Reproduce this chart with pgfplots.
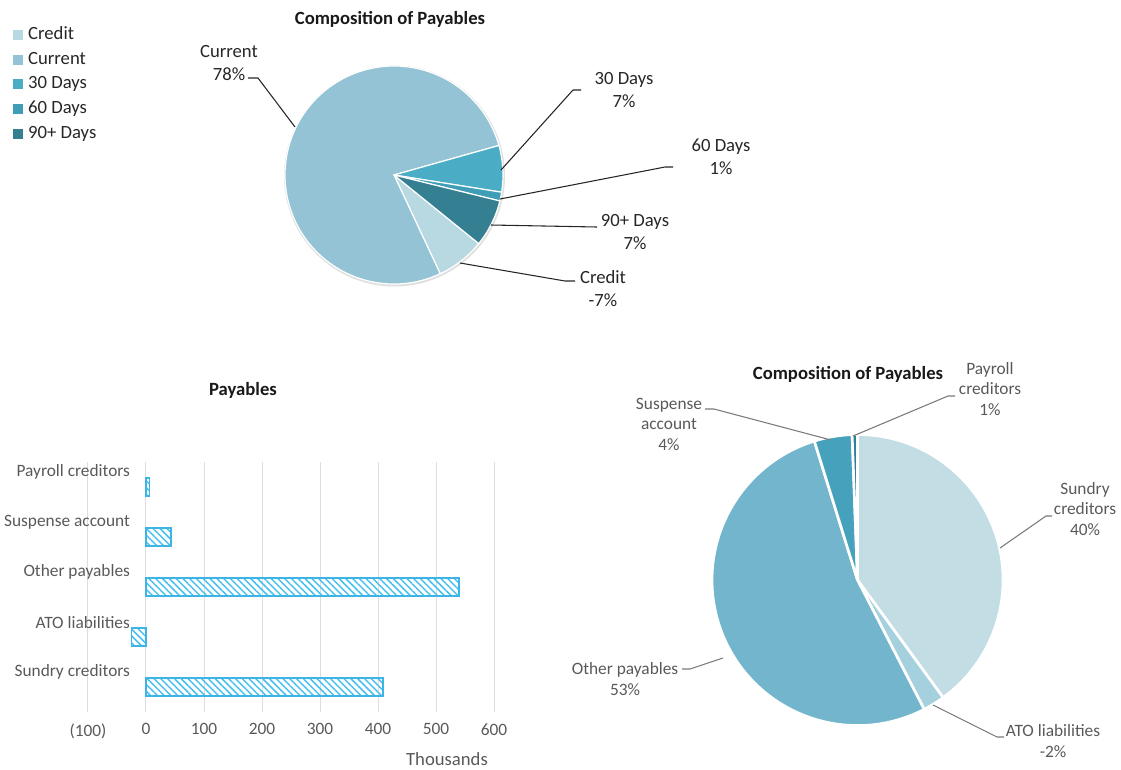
\documentclass[border=0pt]{standalone}
\usepackage{pgfplots}
\pgfplotsset{compat=1.18}
\usepackage{pgfplotstable}
\usepackage{fontspec}
\setmainfont{Carlito}
\usetikzlibrary{patterns.meta}

% colours
\definecolor{cCredit}{HTML}{B8D8E2}
\definecolor{cCurrent}{HTML}{93C3D4}
\definecolor{cThirty}{HTML}{4BACC6}
\definecolor{cSixty}{HTML}{3F9DB8}
\definecolor{cNinety}{HTML}{357F93}
\definecolor{cSundry}{HTML}{C3DDE5}
\definecolor{cATO}{HTML}{A5D0DE}
\definecolor{cOther}{HTML}{72B5CC}
\definecolor{cSuspense}{HTML}{46A2BC}
\definecolor{cPayroll}{HTML}{2E7F99}
\definecolor{barline}{HTML}{3CB4E6}
\definecolor{hatch}{HTML}{45C0EE}
\definecolor{txt}{HTML}{595959}
\definecolor{gridc}{HTML}{DEDEDE}

% one slice per table row, clockwise from the start angle
% #1 table, #2/#3 centre (px), #4 radius (px), #5 start angle, #6 border width
\newcommand\drawpie[6]{%
  \gdef\pietotal{0}%
  \pgfplotstableforeachcolumnelement{value}\of#1\as\v{%
    \pgfmathsetmacro\t{\pietotal+abs(\v)}\xdef\pietotal{\t}}%
  \xdef\pieangle{#5}%
  \pgfplotstablegetrowsof{#1}\pgfmathtruncatemacro\pielast{\pgfplotsretval-1}%
  \foreach \i in {0,...,\pielast}{%
    \pgfplotstablegetelem{\i}{value}\of#1\pgfmathsetmacro\v{abs(\pgfplotsretval)}%
    \pgfplotstablegetelem{\i}{colour}\of#1\let\slicecol\pgfplotsretval
    \pgfmathsetmacro\a{\pieangle}%
    \pgfmathsetmacro\b{\pieangle-\v/\pietotal*360}%
    \edef\temp{\noexpand\fill[fill=\slicecol, draw=white, line width=#6, line join=round]
      (axis cs:#2,#3) -- ++(\a:#4*0.75pt) arc[start angle=\a, end angle=\b, radius=#4*0.75pt] -- cycle;}%
    \temp
    \xdef\pieangle{\b}%
  }%
}

\begin{document}

\pgfplotstableread{
value colour
-7.2  cCredit
77.6  cCurrent
6.9   cThirty
1.3   cSixty
7.0   cNinety
}\toppie

\pgfplotstableread{
value colour
409   cSundry
-25   cATO
540   cOther
43    cSuspense
6     cPayroll
}\botpie

% payables in thousands, bottom to top
\pgfplotstableread{
pos value
0 409
1 -25
2 540
3 43
4 6
}\payables

\begin{tikzpicture}
% frame axis: one unit = one pixel of the reference, y downwards
\begin{axis}[
  x=0.75pt, y=0.75pt, xmin=0, xmax=1121, ymin=0, ymax=769, y dir=reverse,
  hide axis, clip=false, scale only axis,
  legend style={at={(axis cs:9,23)}, anchor=north west, draw=none, fill=none,
    font=\fontsize{14}{17}\selectfont, text=black!85, row sep=5.6pt,
    nodes={inner ysep=0pt, inner xsep=4pt, text height=10pt, text depth=3pt}},
  legend cell align=left,
  legend image code/.code={\fill[#1] (0pt,-3.4pt) rectangle (6.8pt,3.4pt);},
]
\addlegendimage{cCredit}\addlegendentry{Credit}
\addlegendimage{cCurrent}\addlegendentry{Current}
\addlegendimage{cThirty}\addlegendentry{30 Days}
\addlegendimage{cSixty}\addlegendentry{60 Days}
\addlegendimage{cNinety}\addlegendentry{90+ Days}

% top pie
\fill[black!12] (axis cs:394.5,176) circle[radius=110.5*0.75pt];
\drawpie{\toppie}{394}{175}{109}{-39}{0.9pt}
\node[font=\bfseries\fontsize{14}{17}\selectfont, text=black!90] at (axis cs:390,19) {Composition of Payables};

\begin{scope}[black!85, line width=0.8pt]
\draw (axis cs:295,127) -- (axis cs:258,78) -- (axis cs:248,78);
\draw (axis cs:501,170) -- (axis cs:573,90) -- (axis cs:581,90);
\draw (axis cs:500,199) -- (axis cs:665,167) -- (axis cs:673,167);
\draw (axis cs:491,225) -- (axis cs:597,227);
\draw (axis cs:460,263) -- (axis cs:565,281) -- (axis cs:575,281);
\end{scope}
\begin{scope}[every node/.style={font=\fontsize{14}{17.25}\selectfont, text=black!85, align=center}]
\node at (axis cs:229,63) {Current\\78\%};
\node at (axis cs:624,90) {30 Days\\7\%};
\node at (axis cs:721,157) {60 Days\\1\%};
\node at (axis cs:635,232) {90+ Days\\7\%};
\node at (axis cs:603,289) {Credit\\-7\%};
\end{scope}

% bottom pie
\drawpie{\botpie}{857.5}{580}{145.5}{90}{2pt}
\node[font=\bfseries\fontsize{14}{17}\selectfont, text=black!90] at (axis cs:848,374) {Composition of Payables};
\begin{scope}[txt!80, line width=0.8pt]
\draw (axis cs:853,436) -- (axis cs:948,396) -- (axis cs:955,396);
\draw (axis cs:831,440) -- (axis cs:714,409) -- (axis cs:705,409);
\draw (axis cs:1000,548) -- (axis cs:1046,516) -- (axis cs:1052,516);
\draw (axis cs:723,658) -- (axis cs:690,669) -- (axis cs:682,669);
\draw (axis cs:933,705) -- (axis cs:997,737) -- (axis cs:1004,737);
\end{scope}
\begin{scope}[every node/.style={font=\fontsize{13}{15.4}\selectfont, text=txt, align=center}]
\node at (axis cs:990,389) {Payroll\\creditors\\1\%};
\node at (axis cs:669,424) {Suspense\\account\\4\%};
\node at (axis cs:1085,509) {Sundry\\creditors\\40\%};
\node at (axis cs:625,679) {Other payables\\53\%};
\node at (axis cs:1053,741) {ATO liabilities\\-2\%};
\end{scope}
\node[font=\bfseries\fontsize{14}{17}\selectfont, text=black!90] at (axis cs:243,390) {Payables};
\node[font=\fontsize{14}{17}\selectfont, text=txt] at (axis cs:447,759) {Thousands};
\end{axis}

% bar chart
\begin{axis}[
  at={(88*0.75pt,57*0.75pt)}, anchor=south west,
  width=406*0.75pt, height=250*0.75pt, scale only axis,
  xbar, bar width=13.5pt,
  xmin=-100, xmax=600, ymin=-0.5, ymax=4.5,
  axis line style={draw=none}, tick style={draw=none},
  xmajorgrids, grid style={gridc, line width=0.75pt},
  xtick={-100,0,...,600},
  xticklabels={(100),0,100,200,300,400,500,600},
  ytick={0,1,2,3,4},
  yticklabels={Sundry creditors,ATO liabilities,Other payables,Suspense account,Payroll creditors},
  major tick length=0pt,
  tick label style={font=\fontsize{13}{15}\selectfont, text=txt},
  xticklabel style={yshift=-5pt},
  yticklabel style={xshift=35pt, yshift=11pt},
  /pgf/number format/assume math mode=true,
]
\addplot[draw=barline, line width=1.3pt,
  pattern={Lines[angle=-45, distance=3.6pt, line width=1.1pt]}, pattern color=hatch]
  table[x=value, y=pos] {\payables};
\end{axis}

\pgfresetboundingbox
\path (0,0) rectangle (840.75pt,576.75pt);
\end{tikzpicture}
\end{document}
